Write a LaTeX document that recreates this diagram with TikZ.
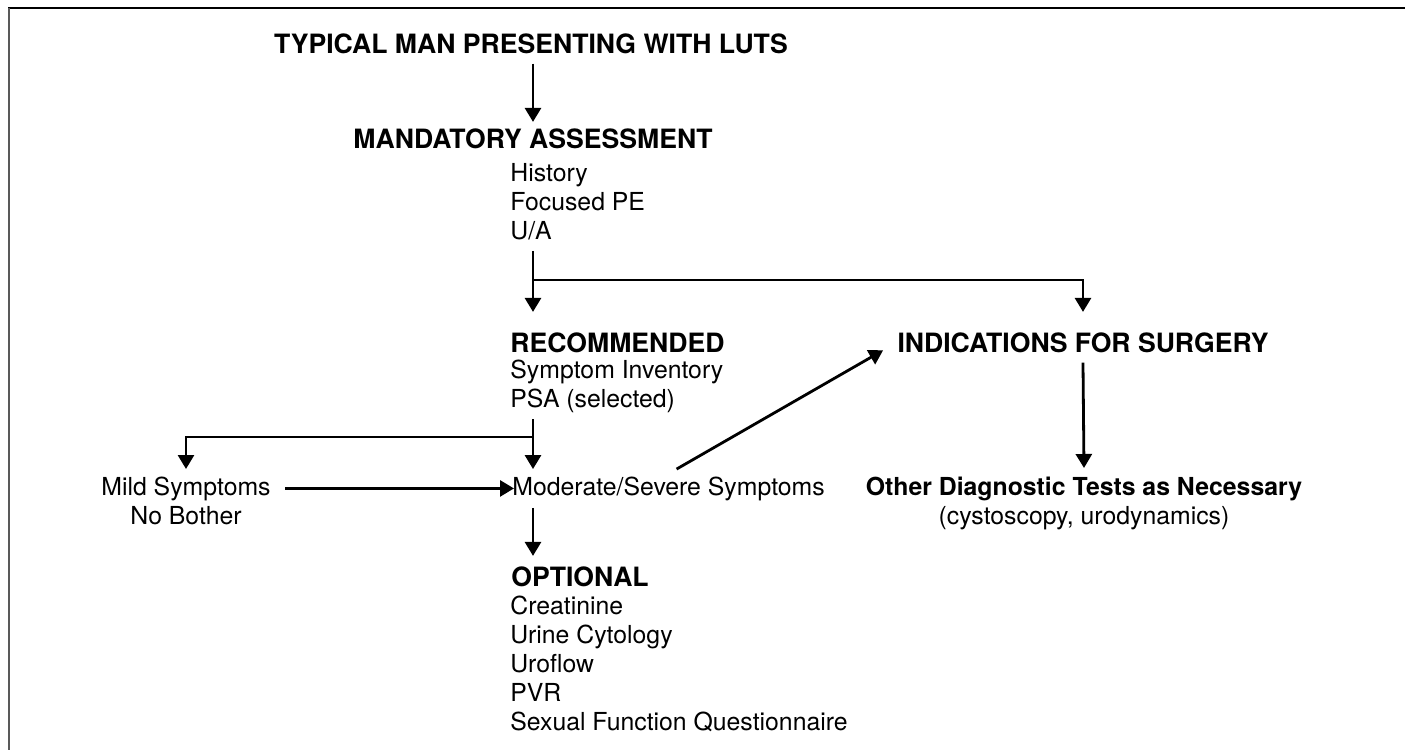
\documentclass[tikz,border=0pt]{standalone}
\usepackage{fontspec}
\setmainfont{TeX Gyre Heros}
\usetikzlibrary{arrows.meta, calc}

\begin{document}
\begin{tikzpicture}[x=0.5pt, y=-0.5pt,
    arr/.style={-{Triangle[width=8pt, length=7pt]}, line width=1.4pt},
    link/.style={line width=1.4pt},
    head/.style={font=\fontsize{13.3}{16}\selectfont\bfseries, inner sep=0pt},
    item/.style={font=\fontsize{12.4}{14.4}\selectfont, inner sep=0pt, align=left},
  ]

\useasboundingbox (0,0) rectangle (1405,750);

% frame lines
\draw[line width=1pt] (8,8) -- (1405,8);
\draw[black!65, line width=1.3pt] (9,8) -- (9,750);

% ============================================================
% Assessment chain (centre column)
% ============================================================

\node[head, anchor=base] (luts) at (531,53) {TYPICAL MAN PRESENTING WITH LUTS};
\node[head, anchor=base] (mand) at (533,148) {MANDATORY ASSESSMENT};
\node[item, anchor=north west] (mandlist) at (510,163)
    {History\\Focused PE\\U/A};

\node[head, anchor=base west] (rec) at (510,352) {RECOMMENDED};
\node[item, anchor=north west] (reclist) at (510,360)
    {Symptom Inventory\\PSA (selected)};

\node[item, anchor=base west] (moder) at (512,495) {Moderate/Severe Symptoms};
\node[item, align=center, anchor=north] (mild) at (186,477)
    {Mild Symptoms\\No Bother};

\node[head, anchor=base west] (opt) at (511,586) {OPTIONAL};
\node[item, anchor=north west] (optlist) at (510,596)
    {Creatinine\\Urine Cytology\\Uroflow\\PVR\\Sexual Function Questionnaire};

% ============================================================
% Surgery branch (right column)
% ============================================================

\node[head, anchor=base] (surg) at (1083,352) {INDICATIONS FOR SURGERY};
\node[item, align=center, anchor=north] (other) at (1084,477)
    {\textbf{Other Diagnostic Tests as Necessary}\\(cystoscopy, urodynamics)};

% ============================================================
% connectors
% ============================================================

\coordinate (forkA) at (533,280);
\coordinate (forkB) at (533,437);

\draw[arr] ([yshift=-5pt]luts.south -| mand.north) -- ([yshift=3pt]mand.north);

\draw[link] ([yshift=-5.5pt]mandlist.south -| forkA) -- (forkA);
\draw[arr] (forkA) -- ([yshift=10pt]rec.north -| forkA);
\draw[arr] (forkA) -| ([yshift=10pt]surg.north);

\draw[link] ([yshift=-3pt]reclist.south -| forkB) -- (forkB);
\draw[arr] (forkB) -- ([yshift=3.5pt]moder.north -| forkB);
\draw[arr] (forkB) -| ([yshift=4pt]mild.north);

\draw[arr] ([xshift=7pt]mild.north east |- moder.west) -- ([xshift=1pt]moder.west);
\draw[arr] ([xshift=4pt, yshift=3.5pt]moder.north) -- ([xshift=-7pt, yshift=-4pt]surg.west);
\draw[arr] ([yshift=-3.5pt]moder.south -| forkB) -- ([yshift=5pt]opt.north -| forkB);

\draw[arr] ([yshift=-5pt]surg.south) -- ([yshift=4.5pt]other.north);

\end{tikzpicture}
\end{document}
